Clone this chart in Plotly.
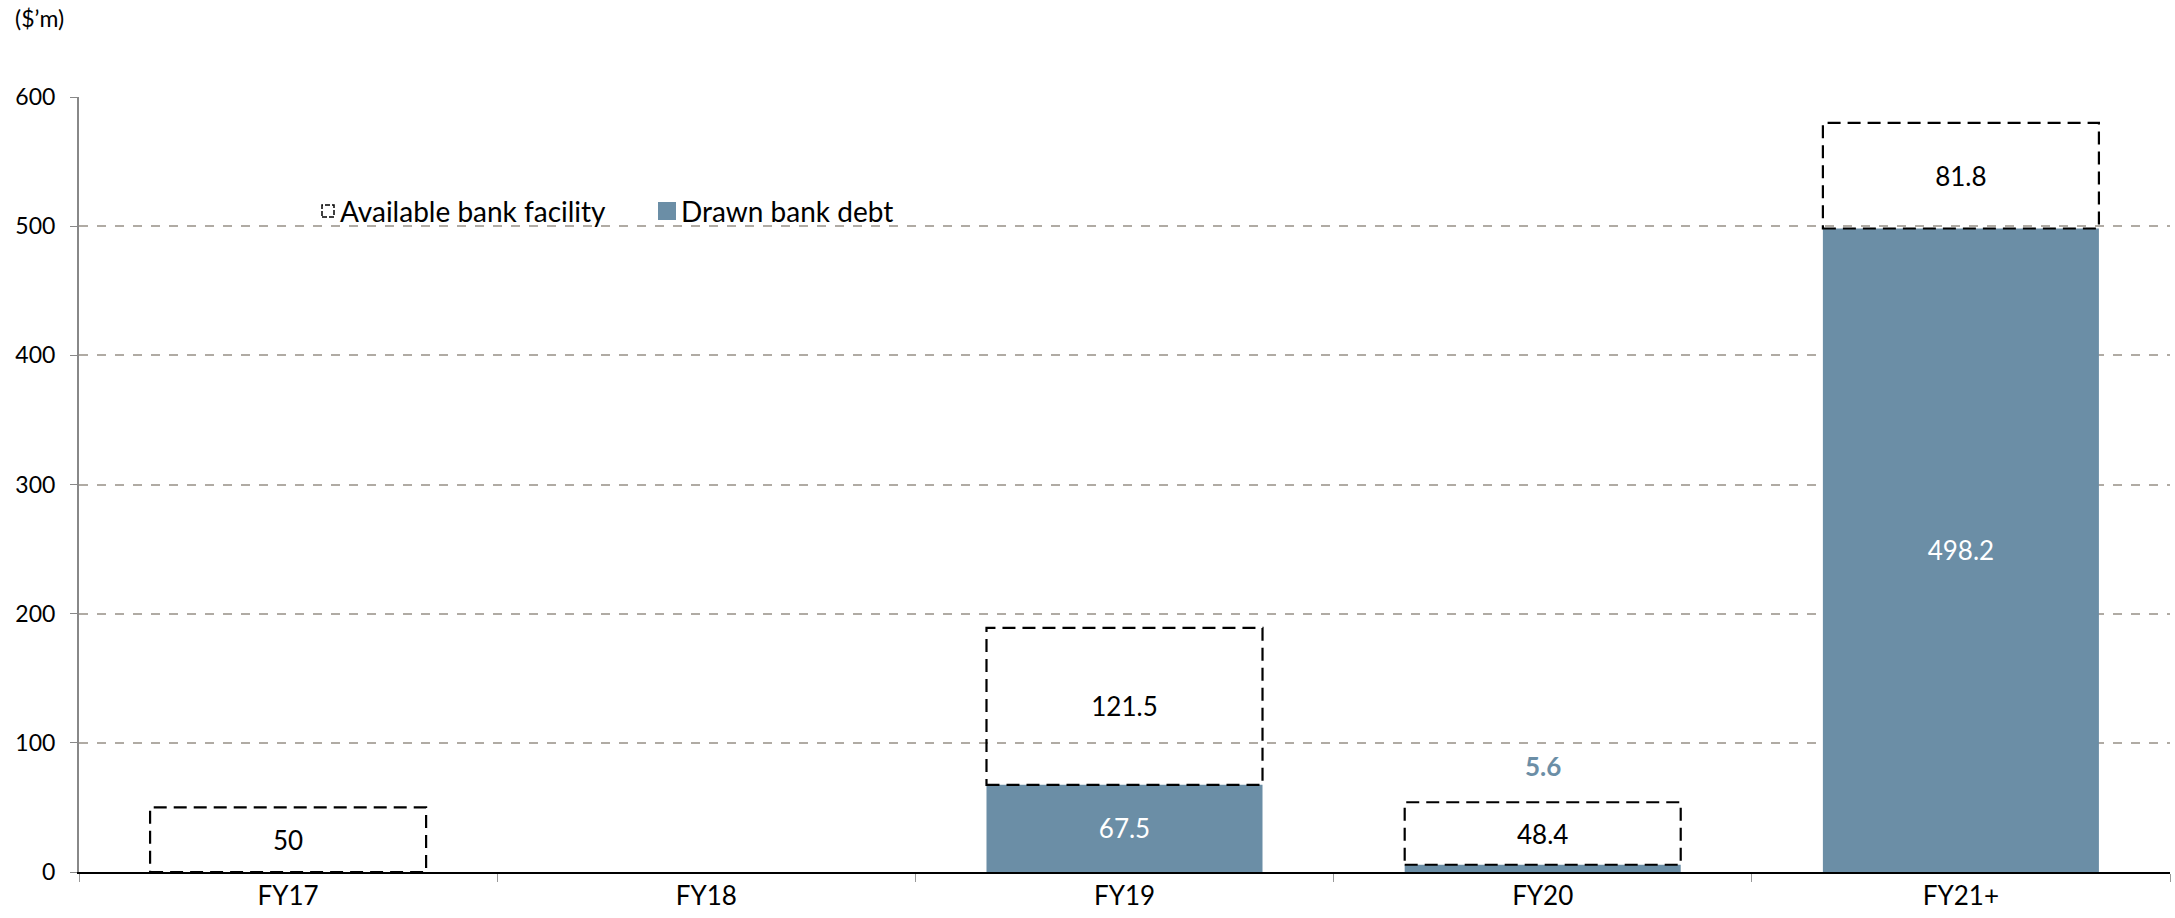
import plotly.graph_objects as go

categories = ["FY17", "FY18", "FY19", "FY20", "FY21+"]
drawn_debt = [0, 0, 67.5, 5.6, 498.2]
available_facility = [50, 0, 121.5, 48.4, 81.8]
y_ticks = [0, 100, 200, 300, 400, 500, 600]

BLUE = "#6B8EA6"
FONT = "Lato"
BAR_W = 0.66
W, H = 2175, 918
ML, MR, MT, MB = 79, 5, 97, 46


def fmt(v):
    return f"{v:g}"


drawn_text = [fmt(v) if v >= 20 else "" for v in drawn_debt]
avail_text = [fmt(v) if v > 0 else "" for v in available_facility]

fig = go.Figure()
fig.add_trace(go.Bar(
    x=categories, y=drawn_debt, width=BAR_W, name="Drawn bank debt",
    marker=dict(color=BLUE, line=dict(width=0)),
    text=drawn_text, textposition="inside", insidetextanchor="middle",
    textfont=dict(color="white", size=26, family=FONT),
    showlegend=False, cliponaxis=False,
))
fig.add_trace(go.Bar(
    x=categories, y=available_facility, base=drawn_debt, width=BAR_W,
    name="Available bank facility",
    marker=dict(color="rgba(0,0,0,0)", line=dict(width=0)),
    text=avail_text, textposition="inside", insidetextanchor="middle",
    textfont=dict(color="black", size=26, family=FONT),
    showlegend=False,
))

shapes = []
for i, (d, a) in enumerate(zip(drawn_debt, available_facility)):
    if a > 0:
        shapes.append(dict(
            type="rect", xref="x", yref="y",
            x0=i - BAR_W / 2, x1=i + BAR_W / 2, y0=d, y1=d + a,
            line=dict(color="black", width=2.2, dash="13px,7px"),
            fillcolor="rgba(0,0,0,0)", layer="above",
        ))

pw, ph = W - ML - MR, H - MT - MB


def px(x):
    return (x - ML) / pw


def py(y):
    return (H - MB - y) / ph


annotations = []
# small drawn value shown above the FY20 box
for i, (d, a) in enumerate(zip(drawn_debt, available_facility)):
    if 0 < d < 20:
        annotations.append(dict(
            x=categories[i], y=d + a + 28, xref="x", yref="y", text=fmt(d),
            showarrow=False, font=dict(color=BLUE, size=26, family=FONT, weight="bold"),
        ))

annotations.append(dict(
    x=px(13), y=py(18), xref="paper", yref="paper", text="($’m)", showarrow=False,
    xanchor="left", yanchor="middle", font=dict(size=23, family=FONT, color="black"),
))

# custom legend
leg_y = py(211)
shapes.append(dict(type="rect", xref="paper", yref="paper",
                   x0=px(322), x1=px(334), y0=leg_y - 6 / ph, y1=leg_y + 6 / ph,
                   line=dict(color="black", width=1.5, dash="5px,2px"),
                   fillcolor="rgba(0,0,0,0)"))
annotations.append(dict(x=px(338), y=leg_y, xref="paper", yref="paper",
                        text="Available bank facility", showarrow=False,
                        xanchor="left", yanchor="middle",
                        font=dict(size=28, family=FONT, color="black")))
shapes.append(dict(type="rect", xref="paper", yref="paper",
                   x0=px(658), x1=px(676), y0=leg_y - 9 / ph, y1=leg_y + 9 / ph,
                   line=dict(width=0), fillcolor=BLUE))
annotations.append(dict(x=px(679), y=leg_y, xref="paper", yref="paper",
                        text="Drawn bank debt", showarrow=False,
                        xanchor="left", yanchor="middle",
                        font=dict(size=28, family=FONT, color="black")))

fig.update_layout(
    width=W, height=H,
    margin=dict(l=ML, r=MR, t=MT, b=MB),
    paper_bgcolor="white", plot_bgcolor="white",
    barmode="overlay",
    shapes=shapes, annotations=annotations,
    font=dict(family=FONT, size=22, color="black"),
    xaxis=dict(
        type="category", tickson="boundaries", ticks="outside", ticklen=8,
        tickcolor="#999999", tickwidth=1, showline=True, linecolor="black",
        linewidth=1.5, showgrid=False, tickfont=dict(size=26, family=FONT),
        range=[-0.5, 4.5],
    ),
    yaxis=dict(
        range=[0, 600], tickvals=y_ticks, ticks="outside", ticklen=7,
        tickcolor="#888888", showline=True, linecolor="#888888", linewidth=2,
        showgrid=True, gridcolor="#B0ABA4", griddash="dash", gridwidth=1.5,
        zeroline=False, tickfont=dict(size=23, family=FONT),
        ticklabelstandoff=10,
    ),
)

fig.write_html("out.html")
